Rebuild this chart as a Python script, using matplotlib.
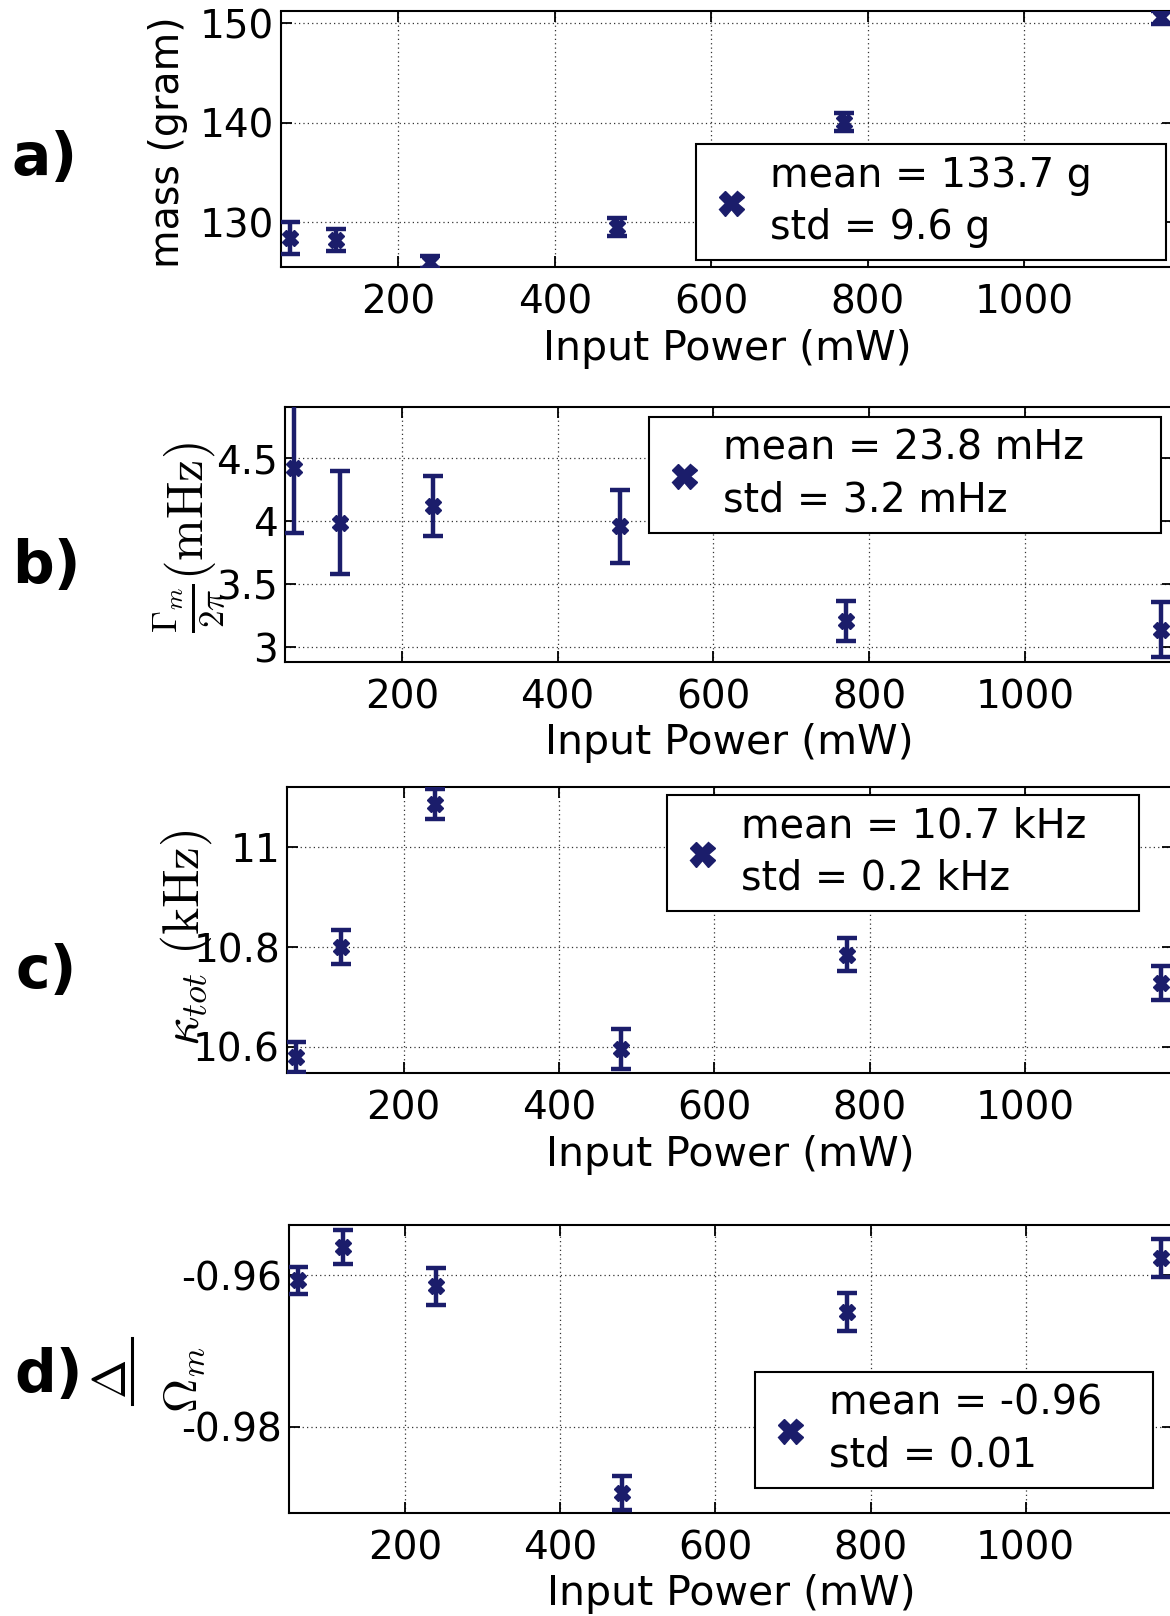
import matplotlib
matplotlib.use("Agg")
import matplotlib.pyplot as plt
from matplotlib.lines import Line2D

# ---------------- data ----------------
power = [62, 120, 240, 480, 770, 1175]

mass = [128.4, 128.2, 126.0, 129.5, 140.1, 150.6]
mass_err = [1.6, 1.1, 0.6, 0.9, 0.9, 0.7]

gamma = [4.42, 3.99, 4.12, 3.96, 3.21, 3.14]
gamma_err = [0.51, 0.41, 0.24, 0.29, 0.16, 0.22]

kappa = [10.58, 10.80, 11.087, 10.595, 10.785, 10.727]
kappa_err = [0.03, 0.034, 0.03, 0.04, 0.034, 0.034]

detuning = [-0.9607, -0.9563, -0.9615, -0.9887, -0.9649, -0.9577]
detuning_err = [0.0018, 0.0022, 0.0025, 0.0023, 0.0025, 0.0025]

xticks = [200, 400, 600, 800, 1000]
xtick_labels = ["200", "400", "600", "800", "1000"]

mass_ticks = [130, 140, 150]
mass_tick_labels = ["130", "140", "150"]
gamma_ticks = [3, 3.5, 4, 4.5]
gamma_tick_labels = ["3", "3.5", "4", "4.5"]
kappa_ticks = [10.6, 10.8, 11]
kappa_tick_labels = ["10.6", "10.8", "11"]
det_ticks = [-0.98, -0.96]
det_tick_labels = ["-0.98", "-0.96"]

legend_texts = ["mean = 133.7 g\nstd = 9.6 g",
                "mean = 23.8 mHz\nstd = 3.2 mHz",
                "mean = 10.7 kHz\nstd = 0.2 kHz",
                "mean = -0.96\nstd = 0.01"]
panel_letters = ["a)", "b)", "c)", "d)"]

# ---------------- style ----------------
W, H = 1170, 1616
NAVY = "#1b1d6b"
plt.rcParams["font.family"] = ["DejaVu Sans"]
plt.rcParams["mathtext.fontset"] = "cm"

fig = plt.figure(figsize=(W / 100, H / 100), dpi=100)
fig.patch.set_facecolor("white")

XLIM = (50, 1190)
RIGHT = 1173

panels = [
    dict(y=mass, e=mass_err, ticks=mass_ticks, tl=mass_tick_labels,
         left=281, top=11.5, bottom=267, ylim=(125.5, 151.2),
         leg=(696, 1166, 144), ylab="mass (gram)", ylab_fs=28.5,
         ylab_x=188, ylab_y=142, let_y=175, let_x=12),
    dict(y=gamma, e=gamma_err, ticks=gamma_ticks, tl=gamma_tick_labels,
         left=285, top=406.7, bottom=661.7, ylim=(2.885, 4.91),
         leg=(649, 1161, 417), ylab=r"$\frac{\Gamma_m}{2\pi}(\mathrm{mHz})$", ylab_fs=36,
         ylab_x=228, ylab_y=538, let_y=583, let_x=12),
    dict(y=kappa, e=kappa_err, ticks=kappa_ticks, tl=kappa_tick_labels,
         left=287, top=787.3, bottom=1073.3, ylim=(10.547, 11.12),
         leg=(667, 1139, 795), ylab=r"$\kappa_{tot}\ (\mathrm{kHz})$", ylab_fs=37,
         ylab_x=214, ylab_y=938, let_y=988, let_x=16),
    dict(y=detuning, e=detuning_err, ticks=det_ticks, tl=det_tick_labels,
         left=289, top=1225, bottom=1512.7, ylim=(-0.9913, -0.9534),
         leg=(755, 1153, 1372), ylab=r"$\Omega_m$", ylab_fs=34,
         ylab_x=207, ylab_y=1380, let_y=1392, let_x=14),
]

for i, p in enumerate(panels):
    l, t, b = p["left"], p["top"], p["bottom"]
    ax = fig.add_axes([l / W, 1 - b / H, (RIGHT - l) / W, (b - t) / H])
    ax.set_axisbelow(True)
    ax.errorbar(power, p["y"], yerr=p["e"], fmt="X", color=NAVY, ms=12,
                elinewidth=3.2, capsize=7, capthick=3.2, zorder=3)
    ax.set_xlim(*XLIM)
    ax.set_ylim(*p["ylim"])
    ax.set_xticks(xticks)
    ax.set_xticklabels(xtick_labels)
    ax.set_yticks(p["ticks"])
    ax.set_yticklabels(p["tl"])
    ax.tick_params(axis="both", direction="in", length=8, width=1.3,
                   top=True, right=True, labelsize=28, colors="black")
    ax.tick_params(axis="x", pad=12)
    ax.tick_params(axis="y", pad=5)
    for s in ax.spines.values():
        s.set_linewidth(1.5)
        s.set_color("black")
    ax.grid(True, linestyle=(0, (1, 2.5)), color="#333333", linewidth=0.9)
    ax.set_xlabel("Input Power (mW)", fontsize=29.5, labelpad=5)

    ax.set_ylabel(p["ylab"], fontsize=p["ylab_fs"])
    axw = RIGHT - l
    axh = b - t
    ax.yaxis.set_label_coords((p["ylab_x"] - l) / axw, (b - p["ylab_y"]) / axh)

    # legend
    x0, x1, ltop = p["leg"]
    handle = Line2D([], [], marker="X", ls="none", color=NAVY, ms=18)
    leg = ax.legend([handle], [legend_texts[i]], loc="upper left",
                    bbox_to_anchor=((x0 - l) / axw, 0, (x1 - x0) / axw, (b - ltop) / axh),
                    mode="expand", borderaxespad=0, fancybox=False, framealpha=1,
                    edgecolor="black", fontsize=28.5, handlelength=1.15,
                    handletextpad=0.42, borderpad=0.3, numpoints=1)
    leg.get_frame().set_linewidth(1.5)
    for tx in leg.get_texts():
        tx.set_linespacing(1.38)

    # panel letter
    fig.text(p["let_x"] / W, 1 - p["let_y"] / H, panel_letters[i],
             fontsize=42, fontweight="bold", ha="left", va="baseline")

# numerator and fraction bar of the d) label (Delta / Omega_m)
fig.text(114 / W, 1 - 1379 / H, r"$\Delta$", fontsize=34, rotation=90,
         ha="center", va="center")
fig.add_artist(Line2D([132 / W, 132 / W], [1 - 1338 / H, 1 - 1404 / H],
                      color="black", linewidth=2.2, transform=fig.transFigure))

fig.savefig("out.png", dpi=100, facecolor="white")
